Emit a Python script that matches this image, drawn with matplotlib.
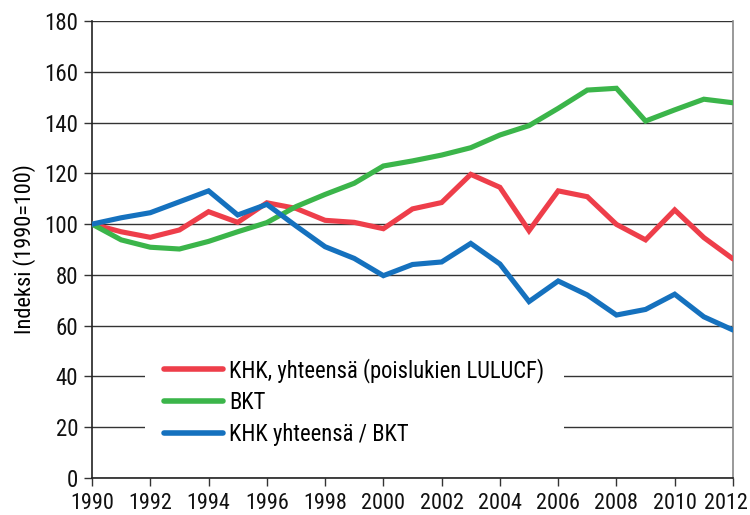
import matplotlib
matplotlib.use("Agg")
import matplotlib.pyplot as plt
from matplotlib import font_manager
from matplotlib.transforms import ScaledTranslation

years = list(range(1990, 2013))
khk = [100, 97.0, 94.8, 97.7, 104.9, 100.7, 108.4, 106.2, 101.5, 100.7, 98.2,
       106.0, 108.5, 119.6, 114.5, 97.4, 113.1, 110.8, 99.9, 93.8, 105.6, 94.7, 86.3]
bkt = [100, 93.8, 90.9, 90.2, 93.2, 97.0, 100.6, 106.9, 111.7, 116.1, 122.9,
       124.9, 127.2, 130.1, 135.1, 138.8, 145.6, 152.8, 153.5, 140.6, 145.0, 149.2, 147.8]
khk_bkt = [100, 102.5, 104.5, 108.8, 113.1, 103.6, 107.8, 99.3, 91.1, 86.5, 79.7,
           84.1, 85.1, 92.4, 84.3, 69.5, 77.6, 72.1, 64.2, 66.4, 72.4, 63.5, 58.3]
labels = ["KHK, yhteensä (poislukien LULUCF)", "BKT", "KHK yhteensä / BKT"]
colors = ["#EE3E4A", "#3BB54A", "#1571BE"]
yticks = list(range(0, 181, 20))
xticks = list(range(1990, 2013, 2))

names = {f.name for f in font_manager.fontManager.ttflist}
prefs = ["Roboto Condensed", "Open Sans Condensed", "Fira Sans Condensed", "PT Sans Narrow",
         "Archivo Narrow", "Asap Condensed", "Liberation Sans Narrow", "Open Sans"]
chosen = next((p for p in prefs if p in names), "DejaVu Sans")
plt.rcParams["font.family"] = [chosen, "DejaVu Sans"]

fig = plt.figure(figsize=(7.5, 5.15), dpi=100)
ax = fig.add_axes([0.1227, 0.0718, 0.8546, 0.8874])

for series, lab, c in zip([khk, bkt, khk_bkt], labels, colors):
    ax.plot(years, series, color=c, lw=3.7, label=lab, solid_capstyle="round", solid_joinstyle="miter", zorder=3)

ax.set_xlim(1990, 2012)
ax.set_ylim(0, 180)
ax.set_xticks(xticks)
ax.set_yticks(yticks)
ax.tick_params(axis="both", direction="out", length=6, width=1, color="#333333", labelcolor="#111111")
ax.tick_params(axis="y", pad=4, labelsize=16.5)
ax.tick_params(axis="x", pad=5, labelsize=16)
ax.yaxis.grid(True, color="#333333", lw=1)
ax.set_axisbelow(True)
for s in ["left", "bottom"]:
    ax.spines[s].set_color("#222222")
    ax.spines[s].set_linewidth(1.2)
ax.spines["right"].set_color("#888888")
ax.spines["right"].set_linewidth(1.2)
ax.spines["top"].set_visible(False)
ax.set_ylabel("Indeksi (1990=100)", fontsize=16, labelpad=6)

leg = ax.legend(loc="upper left", bbox_to_anchor=(0.082, 0.305), frameon=True, fontsize=16.3,
                handlelength=2.6, handletextpad=0.3, labelspacing=0.38, borderpad=0.85,
                borderaxespad=0, fancybox=False)
leg.get_frame().set_edgecolor("none")
leg.get_frame().set_facecolor("white")
leg.get_frame().set_alpha(1)
leg.set_zorder(2)
for line in leg.get_lines():
    line.set_linewidth(4)

last = ax.xaxis.get_major_ticks()[-1].label1
last.set_transform(last.get_transform() + ScaledTranslation(-5 / 72, 0, fig.dpi_scale_trans))

fig.savefig("out.png", dpi=100)
